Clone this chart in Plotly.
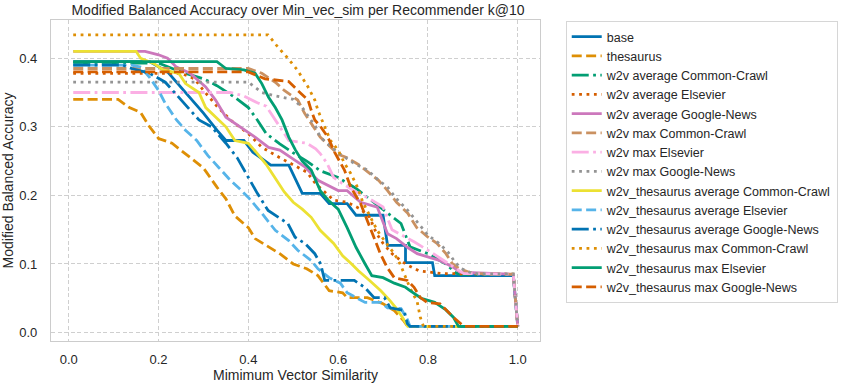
import plotly.graph_objects as go

# ---- data ----
names = ["base", "thesaurus", "w2v average Common-Crawl", "w2v average Elsevier",
         "w2v average Google-News", "w2v max Common-Crawl", "w2v max Elsevier",
         "w2v max Google-News", "w2v_thesaurus average Common-Crawl",
         "w2v_thesaurus average Elsevier", "w2v_thesaurus average Google-News",
         "w2v_thesaurus max Common-Crawl", "w2v_thesaurus max Elsevier",
         "w2v_thesaurus max Google-News"]

base_x = [0.01, 0.18, 0.22, 0.26, 0.30, 0.33, 0.35, 0.39, 0.41, 0.45, 0.49, 0.52, 0.56, 0.58, 0.62, 0.64, 0.70, 0.71, 0.75, 0.75, 0.81, 0.815, 0.99, 1.0]
base_y = [0.395, 0.395, 0.38, 0.35, 0.32, 0.295, 0.28, 0.28, 0.263, 0.244, 0.244, 0.203, 0.203, 0.188, 0.188, 0.171, 0.171, 0.127, 0.127, 0.102, 0.102, 0.083, 0.083, 0.009]

thes_x = [0.01, 0.11, 0.135, 0.16, 0.18, 0.2, 0.23, 0.27, 0.30, 0.33, 0.35, 0.37, 0.40, 0.415, 0.44, 0.47, 0.5, 0.53, 0.555, 0.58, 0.61, 0.62, 0.665, 0.70, 0.725, 0.745, 0.755, 1.0]
thes_y = [0.34, 0.34, 0.328, 0.321, 0.30, 0.283, 0.276, 0.255, 0.24, 0.212, 0.195, 0.17, 0.153, 0.137, 0.127, 0.115, 0.10, 0.093, 0.083, 0.061, 0.058, 0.051, 0.051, 0.042, 0.032, 0.018, 0.009, 0.009]

avg_cc_x = [0.01, 0.2, 0.25, 0.30, 0.33, 0.37, 0.40, 0.42, 0.44, 0.47, 0.5, 0.53, 0.56, 0.6, 0.64, 0.68, 0.72, 0.74, 0.76, 0.80, 0.84, 0.86, 0.87, 0.99, 1.0]
avg_cc_y = [0.393, 0.393, 0.38, 0.37, 0.36, 0.343, 0.328, 0.31, 0.29, 0.275, 0.262, 0.25, 0.236, 0.226, 0.21, 0.19, 0.17, 0.159, 0.125, 0.115, 0.10, 0.088, 0.085, 0.085, 0.009]

avg_el_x = [0.01, 0.25, 0.28, 0.30, 0.33, 0.36, 0.40, 0.43, 0.47, 0.50, 0.53, 0.55, 0.59, 0.62, 0.65, 0.67, 0.685, 0.70, 0.72, 0.75, 0.78, 0.83, 0.99, 1.0]
avg_el_y = [0.378, 0.378, 0.37, 0.353, 0.33, 0.31, 0.29, 0.27, 0.255, 0.245, 0.234, 0.217, 0.193, 0.19, 0.18, 0.168, 0.145, 0.13, 0.115, 0.10, 0.09, 0.086, 0.085, 0.009]

avg_gn_x = [0.01, 0.17, 0.2, 0.22, 0.24, 0.27, 0.305, 0.327, 0.35, 0.37, 0.39, 0.415, 0.445, 0.47, 0.495, 0.525, 0.555, 0.60, 0.62, 0.65, 0.687, 0.71, 0.73, 0.755, 0.776, 0.80, 0.827, 0.857, 0.871, 0.99, 1.0]
avg_gn_y = [0.41, 0.41, 0.405, 0.40, 0.387, 0.378, 0.358, 0.339, 0.314, 0.305, 0.295, 0.285, 0.27, 0.266, 0.255, 0.242, 0.222, 0.207, 0.207, 0.19, 0.183, 0.144, 0.137, 0.124, 0.115, 0.11, 0.105, 0.095, 0.088, 0.085, 0.009]

max_cc_x = [0.01, 0.40, 0.43, 0.46, 0.48, 0.51, 0.525, 0.54, 0.56, 0.60, 0.62, 0.645, 0.67, 0.69, 0.71, 0.73, 0.755, 0.775, 0.80, 0.82, 0.84, 0.855, 0.87, 0.9, 0.99, 1.0]
max_cc_y = [0.385, 0.385, 0.378, 0.365, 0.353, 0.339, 0.32, 0.305, 0.285, 0.26, 0.255, 0.245, 0.232, 0.222, 0.207, 0.19, 0.174, 0.153, 0.139, 0.13, 0.115, 0.10, 0.093, 0.086, 0.085, 0.009]

max_el_x = [0.01, 0.36, 0.39, 0.42, 0.44, 0.46, 0.49, 0.53, 0.55, 0.56, 0.575, 0.59, 0.61, 0.64, 0.67, 0.70, 0.72, 0.75, 0.77, 0.80, 0.835, 0.865, 0.88, 0.99, 1.0]
max_el_y = [0.35, 0.35, 0.345, 0.335, 0.33, 0.31, 0.28, 0.276, 0.268, 0.261, 0.247, 0.226, 0.217, 0.205, 0.195, 0.183, 0.15, 0.139, 0.132, 0.12, 0.105, 0.093, 0.086, 0.085, 0.009]

max_gn_x = [0.01, 0.40, 0.43, 0.46, 0.50, 0.52, 0.535, 0.55, 0.56, 0.60, 0.635, 0.665, 0.69, 0.71, 0.73, 0.755, 0.78, 0.80, 0.825, 0.845, 0.86, 0.875, 0.9, 0.99, 1.0]
max_gn_y = [0.365, 0.365, 0.35, 0.345, 0.34, 0.328, 0.314, 0.30, 0.285, 0.262, 0.247, 0.237, 0.222, 0.212, 0.195, 0.178, 0.158, 0.142, 0.13, 0.117, 0.103, 0.093, 0.086, 0.085, 0.009]

t_avg_cc_x = [0.01, 0.15, 0.16, 0.19, 0.21, 0.245, 0.26, 0.29, 0.305, 0.327, 0.35, 0.37, 0.40, 0.42, 0.44, 0.46, 0.48, 0.50, 0.52, 0.54, 0.56, 0.59, 0.61, 0.63, 0.645, 0.67, 0.695, 0.715, 0.73, 0.745, 0.755, 1.0]
t_avg_cc_y = [0.41, 0.41, 0.40, 0.392, 0.383, 0.378, 0.363, 0.35, 0.328, 0.314, 0.30, 0.28, 0.276, 0.261, 0.245, 0.225, 0.205, 0.19, 0.18, 0.168, 0.149, 0.13, 0.112, 0.10, 0.09, 0.076, 0.061, 0.047, 0.035, 0.02, 0.009, 0.009]

t_avg_el_x = [0.01, 0.14, 0.16, 0.18, 0.20, 0.215, 0.24, 0.26, 0.285, 0.31, 0.335, 0.36, 0.38, 0.40, 0.43, 0.46, 0.49, 0.51, 0.54, 0.555, 0.58, 0.605, 0.62, 0.66, 0.695, 0.71, 0.74, 0.755, 0.76, 1.0]
t_avg_el_y = [0.39, 0.39, 0.387, 0.372, 0.353, 0.334, 0.31, 0.295, 0.28, 0.258, 0.24, 0.222, 0.21, 0.197, 0.174, 0.149, 0.134, 0.12, 0.105, 0.093, 0.08, 0.072, 0.058, 0.044, 0.044, 0.036, 0.035, 0.018, 0.009, 0.009]

t_avg_gn_x = [0.01, 0.12, 0.14, 0.18, 0.215, 0.245, 0.267, 0.29, 0.318, 0.35, 0.375, 0.395, 0.42, 0.444, 0.466, 0.488, 0.504, 0.526, 0.548, 0.561, 0.57, 0.636, 0.659, 0.68, 0.703, 0.716, 0.747, 0.754, 0.76, 1.0]
t_avg_gn_y = [0.39, 0.39, 0.385, 0.378, 0.365, 0.343, 0.328, 0.31, 0.30, 0.276, 0.255, 0.232, 0.203, 0.178, 0.168, 0.159, 0.139, 0.13, 0.115, 0.10, 0.076, 0.076, 0.066, 0.051, 0.051, 0.036, 0.032, 0.013, 0.009, 0.009]

t_max_cc_x = [0.01, 0.444, 0.466, 0.488, 0.51, 0.533, 0.548, 0.555, 0.57, 0.583, 0.60, 0.614, 0.628, 0.643, 0.655, 0.672, 0.687, 0.703, 0.725, 0.738, 0.747, 0.76, 0.776, 0.783, 0.79, 1.0]
t_max_cc_y = [0.434, 0.434, 0.416, 0.40, 0.382, 0.358, 0.339, 0.324, 0.30, 0.28, 0.266, 0.247, 0.232, 0.212, 0.19, 0.168, 0.149, 0.134, 0.115, 0.10, 0.085, 0.065, 0.045, 0.022, 0.009, 0.009]

t_max_el_x = [0.01, 0.33, 0.35, 0.39, 0.415, 0.43, 0.445, 0.46, 0.475, 0.49, 0.505, 0.52, 0.54, 0.56, 0.578, 0.60, 0.62, 0.64, 0.66, 0.675, 0.70, 0.725, 0.75, 0.76, 0.785, 0.815, 0.84, 0.857, 0.868, 1.0]
t_max_el_y = [0.395, 0.395, 0.385, 0.383, 0.378, 0.363, 0.343, 0.328, 0.31, 0.285, 0.266, 0.25, 0.237, 0.207, 0.193, 0.18, 0.153, 0.124, 0.10, 0.083, 0.08, 0.072, 0.066, 0.061, 0.05, 0.044, 0.033, 0.022, 0.009, 0.009]

t_max_gn_x = [0.01, 0.40, 0.437, 0.46, 0.49, 0.51, 0.533, 0.54, 0.548, 0.561, 0.577, 0.592, 0.614, 0.628, 0.65, 0.665, 0.68, 0.694, 0.709, 0.725, 0.754, 0.769, 0.783, 0.798, 0.827, 0.842, 0.857, 0.88, 1.0]
t_max_gn_y = [0.38, 0.38, 0.37, 0.368, 0.366, 0.353, 0.339, 0.324, 0.31, 0.30, 0.285, 0.263, 0.237, 0.212, 0.188, 0.163, 0.139, 0.115, 0.095, 0.08, 0.076, 0.066, 0.051, 0.044, 0.042, 0.032, 0.022, 0.009, 0.009]

series_x = [base_x, thes_x, avg_cc_x, avg_el_x, avg_gn_x, max_cc_x, max_el_x, max_gn_x,
            t_avg_cc_x, t_avg_el_x, t_avg_gn_x, t_max_cc_x, t_max_el_x, t_max_gn_x]
series_y = [base_y, thes_y, avg_cc_y, avg_el_y, avg_gn_y, max_cc_y, max_el_y, max_gn_y,
            t_avg_cc_y, t_avg_el_y, t_avg_gn_y, t_max_cc_y, t_max_el_y, t_max_gn_y]

x_ticks = [0.0, 0.2, 0.4, 0.6, 0.8, 1.0]
y_ticks = [0.0, 0.1, 0.2, 0.3, 0.4]

# ---- styles ----
palette = ['#0173b2', '#de8f05', '#029e73', '#d55e00', '#cc78bc',
           '#ca9161', '#fbafe4', '#949494', '#ece133', '#56b4e9']
lw = 2.8
dashes = ["solid", "10px,4.4px", "17px,4.4px,2.8px,4.4px", "2.8px,4.6px"]

fig = go.Figure()
for i, (nm, xs, ys) in enumerate(zip(names, series_x, series_y)):
    fig.add_trace(go.Scatter(
        x=xs, y=ys, mode="lines", name=nm,
        line=dict(color=palette[i % 10], width=lw, dash=dashes[i % 4]),
    ))

font_family = "Liberation Sans, Arial, sans-serif"
axis_common = dict(
    showgrid=True, gridcolor="#cfcfcf", griddash="4px,2.5px", gridwidth=1,
    showline=True, linecolor="#cccccc", linewidth=1.25, mirror=True,
    zeroline=False, ticks="", automargin=False,
    tickfont=dict(size=13, color="#262626", family=font_family),
)
fig.update_xaxes(range=[-0.0395, 1.0495], tickvals=x_ticks, ticktext=[f"{v:.1f}" for v in x_ticks],
                 ticklabelstandoff=6,
                 title=dict(text="Mimimum Vector Similarity", font=dict(size=14, color="#262626"), standoff=4),
                 **axis_common)
fig.update_yaxes(range=[-0.0123, 0.4557], tickvals=y_ticks, ticktext=[f"{v:.1f}" for v in y_ticks],
                 ticklabelstandoff=10,
                 title=dict(text="Modified Balanced Accuracy", font=dict(size=14, color="#262626"), standoff=6),
                 **axis_common)

fig.update_layout(
    width=850, height=386,
    margin=dict(l=51, r=305, t=20, b=45),
    paper_bgcolor="white", plot_bgcolor="white",
    font=dict(family=font_family, color="#262626"),
    title=dict(text="Modified Balanced Accuracy over Min_vec_sim per Recommender k@10",
               x=298 / 850, xanchor="center", y=1 - 10 / 386, yanchor="middle",
               font=dict(size=14, color="#262626"), automargin=False),
    legend=dict(x=(571 - 51) / 494, xanchor="left", y=(341 - 21) / 321, yanchor="top",
                bordercolor="#d6d6d6", borderwidth=1, bgcolor="white",
                font=dict(size=12.5, color="#262626", family=font_family),
                itemwidth=30),
    showlegend=True,
)

fig.write_html("out.html",
               config={"displayModeBar": False},
               post_script="document.body.style.margin='0';document.body.style.overflow='hidden';")
